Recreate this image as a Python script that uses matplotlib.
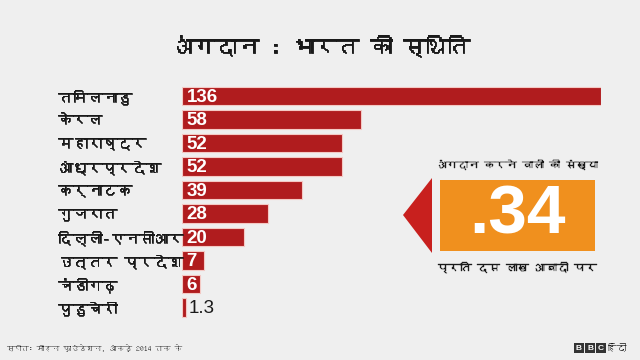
import matplotlib
matplotlib.use("Agg")
import matplotlib.pyplot as plt
from matplotlib import font_manager
from matplotlib.patches import Rectangle, Polygon
import matplotlib.patheffects as pe

states = ["तमिलनाडु", "केरल", "महाराष्ट्र", "आंध्रप्रदेश", "कर्नाटक",
          "गुजरात", "दिल्ली-एनसीआर", "उत्तर प्रदेश", "चंडीगढ़", "पुडुचेरी"]
values = [136, 58, 52, 52, 39, 28, 20, 7, 6, 1.3]
value_labels = ["136", "58", "52", "52", "39", "28", "20", "7", "6", "1.3"]
title = "अंगदान : भारत की स्थिति"
box_value = ".34"
box_top = "अंगदान करने वालों की संख्या"
box_bottom = "प्रति दस लाख आबादी पर"
source = "स्रोत: मोहन फ़ाउंडेशन, आंकड़े 2014 तक के"


def find_family(ch):
    try:
        from fontTools.ttLib import TTFont
    except Exception:
        return None
    for f in font_manager.fontManager.ttflist:
        try:
            tt = TTFont(f.fname, fontNumber=0, lazy=True)
            cmap = tt.getBestCmap()
            if cmap and ord(ch) in cmap:
                return f.name
        except Exception:
            pass
    return None


deva = find_family("\u0915")
FAM = ([deva] if deva else []) + ["Liberation Sans", "DejaVu Sans"]
NUM = ["Liberation Sans", "DejaVu Sans"]

BG = "#efefef"
RED = "#b01c1e"
ORANGE = "#f0901e"
INK = "#1a1a1a"


def heavy(w):
    return [pe.withStroke(linewidth=w, foreground=INK)]


fig = plt.figure(figsize=(6.4, 3.6), dpi=100, facecolor=BG)

W, H = 640.0, 360.0
ax_left, ax_right = 182 / W, 601 / W
ax_top, ax_bot = 1 - 84.25 / H, 1 - 319.25 / H
ax = fig.add_axes([ax_left, ax_bot, ax_right - ax_left, ax_top - ax_bot])
ax.set_facecolor("none")
y = list(range(len(states)))
ax.barh(y, values, height=0.8, color=RED, edgecolor="#f4c9c4", linewidth=0.8)
ax.set_xlim(0, 136)
ax.set_ylim(len(states) - 0.5, -0.5)
ax.axis("off")

for i, (v, lab) in enumerate(zip(values, value_labels)):
    if v >= 5:
        ax.text(1.5, i + 0.05, lab, color="white", fontsize=13.5, fontweight="bold",
                family=NUM, va="center", ha="left")
    else:
        ax.text(v + 1.0, i + 0.05, lab, color=INK, fontsize=13.5,
                family=NUM, va="center", ha="left")

for i, s in enumerate(states):
    yy = ax_bot + (ax_top - ax_bot) * (1 - (i + 0.5) / len(states))
    fig.text(58 / W, yy - 0.004, s, fontsize=10.6, color=INK, family=FAM,
             va="center", ha="left", path_effects=heavy(0.45))

fig.text(320 / W, 1 - 47 / H, title, fontsize=16, color=INK, family=FAM,
         ha="center", va="center", path_effects=heavy(0.6))

# orange box with red arrow
fig.patches.append(Rectangle((440 / W, 1 - 251 / H), 155 / W, 71 / H,
                             transform=fig.transFigure, facecolor=ORANGE,
                             edgecolor="none"))
fig.patches.append(Polygon([(403 / W, 1 - 215 / H), (432 / W, 1 - 178 / H),
                            (432 / W, 1 - 253 / H)], closed=True,
                           transform=fig.transFigure, facecolor="#c8201e",
                           edgecolor="none"))
fig.text(517 / W, 1 - 216 / H, box_value, fontsize=50, fontweight="bold",
         color="white", family=NUM, ha="center", va="center")
fig.text(517 / W, 1 - 165 / H, box_top, fontsize=7.8, color=INK,
         family=FAM, ha="center", va="center", path_effects=heavy(0.25))
fig.text(517 / W, 1 - 268 / H, box_bottom, fontsize=8.2, color=INK,
         family=FAM, ha="center", va="center", path_effects=heavy(0.25))

# footer
fig.text(6 / W, 1 - 348 / H, source, fontsize=5.5, color=INK, family=FAM,
         ha="left", va="center")
for k, letter in enumerate("BBC"):
    x0 = 574 + k * 11
    fig.patches.append(Rectangle((x0 / W, 1 - 353 / H), 10 / W, 10 / H,
                                 transform=fig.transFigure, facecolor="#333333",
                                 edgecolor="none"))
    fig.text((x0 + 5) / W, 1 - 348 / H, letter, fontsize=6, fontweight="bold",
             color="white", family=NUM, ha="center", va="center")
fig.text(608 / W, 1 - 348 / H, "हिंदी", fontsize=7, color=INK,
         family=FAM, ha="left", va="center")

fig.savefig("out.png", dpi=100, facecolor=BG)
